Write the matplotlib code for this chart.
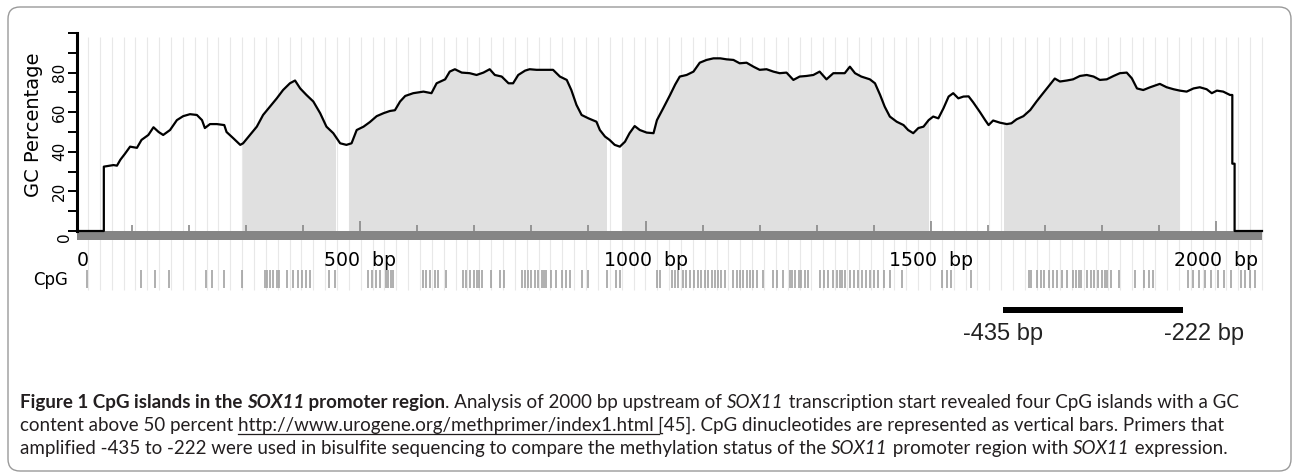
import matplotlib.pyplot as plt
import numpy as np
from matplotlib.patches import Rectangle, FancyBboxPatch
from matplotlib.lines import Line2D
from matplotlib.transforms import IdentityTransform

# --- values (bp, GC %) ---
gc_pos = [4, 51, 51, 68, 74, 80, 88, 97, 109, 117, 129, 138, 147, 155, 167, 179, 190, 202,
          214, 223, 228, 237, 249, 262, 266, 278, 290, 295, 307, 319, 330, 342, 354, 365,
          377, 386, 395, 406, 418, 430, 441, 453, 465, 476, 485, 494, 506, 517, 529, 541,
          552, 561, 570, 579, 593, 611, 625, 634, 649, 657, 666, 678, 692, 704, 716, 727,
          736, 748, 760, 768, 777, 789, 797, 809, 824, 838, 850, 862, 870, 879, 888, 900,
          914, 920, 929, 937, 946, 955, 964, 972, 981, 990, 1002, 1014, 1020, 1031, 1043,
          1052, 1060, 1072, 1084, 1095, 1107, 1119, 1131, 1142, 1154, 1165, 1177, 1189,
          1200, 1212, 1224, 1235, 1247, 1259, 1270, 1282, 1294, 1305, 1317, 1329, 1340,
          1349, 1358, 1367, 1378, 1393, 1402, 1411, 1419, 1428, 1440, 1452, 1460, 1469,
          1478, 1487, 1496, 1504, 1513, 1522, 1531, 1539, 1548, 1557, 1566, 1574, 1586,
          1595, 1601, 1609, 1621, 1633, 1641, 1650, 1662, 1674, 1685, 1694, 1706, 1717,
          1726, 1738, 1749, 1761, 1773, 1785, 1796, 1808, 1820, 1831, 1843, 1852, 1861,
          1872, 1884, 1901, 1913, 1925, 1936, 1948, 1960, 1971, 1983, 1992, 2001, 2012,
          2024, 2028, 2028, 2032, 2032, 2080]
gc_pct = [0, 0, 32.5, 33.3, 33, 36, 39, 42.6, 42, 46, 48.5, 52.4, 50, 48.5, 51, 56, 58, 59,
          58.6, 56, 52, 54, 54, 53.5, 50, 46.8, 43.5, 44.3, 48.5, 52.7, 58.6, 62.8, 67, 71.2,
          74.6, 76, 72, 68.7, 65.4, 59.5, 52.7, 49.4, 44.3, 43.5, 44.3, 51, 52.7, 55, 58, 59.5,
          60.6, 61, 65.4, 68.2, 69.6, 70.4, 69.6, 74.6, 76.6, 80.5, 81.7, 80, 79.7, 78.8, 80, 81.7,
          78.8, 78, 74.6, 74.6, 78.8, 81, 81.7, 81.4, 81.4, 81.4, 78, 76.3, 71.2, 63.7, 58.6, 56.9,
          55.2, 51, 47.7, 46, 43.5, 42.6, 45.1, 49.4, 53, 51, 49.7, 49.4, 56, 62, 68.7,
          74, 78, 78.8, 80.5, 85, 86.4, 87.2, 87.2, 86.7, 86.4, 84.7, 85, 83,
          81.4, 81.7, 80.5, 79.7, 80, 76.3, 78, 78.3, 78.8, 80.5, 76.6, 79.7, 79.7,
          79.7, 83, 79.7, 78, 76.6, 74.6, 68.7, 62.8, 57.8, 55.2, 53.5, 51, 49.4,
          52, 52.7, 56, 57.8, 56.9, 62, 67.9, 69.6, 67, 67.9, 68, 65, 60,
          56, 53.5, 55.8, 54.7, 54, 54.4, 56.4, 58, 61.1, 65.4, 68.7, 73, 77,
          75.5, 76, 76.6, 78.3, 78.8, 78, 76.3, 76.6, 78.3, 79.7, 80, 77.1, 72,
          71.2, 72.6, 74.3, 72.6, 71.6, 70.9, 70.4, 72, 72.6, 71.6, 69.6, 70.9, 70.4,
          68.7, 68.7, 34, 34, 0, 0]

islands = [(294, 456), (480, 931), (959, 1495), (1628, 1935)]

cpg_sites = [22, 116, 141, 165, 230, 240, 262, 293, 333, 337, 342, 348, 354, 358, 372, 382,
             392, 399, 405, 412, 446, 456, 514, 521, 528, 535, 545, 549, 554, 557, 611, 616,
             622, 631, 637, 651, 681, 686, 692, 699, 704, 708, 713, 730, 745, 752, 783, 789,
             794, 800, 806, 812, 818, 822, 826, 835, 844, 853, 861, 867, 888, 899, 933, 949,
             956, 1020, 1026, 1046, 1052, 1057, 1065, 1071, 1078, 1085, 1092, 1098, 1104, 1110,
             1116, 1122, 1127, 1133, 1139, 1154, 1160, 1165, 1171, 1178, 1183, 1189, 1196, 1205,
             1224, 1230, 1241, 1253, 1257, 1262, 1268, 1273, 1279, 1285, 1306, 1313, 1320, 1328,
             1335, 1341, 1345, 1350, 1358, 1365, 1373, 1380, 1387, 1393, 1400, 1408, 1417, 1428,
             1449, 1519, 1528, 1536, 1571, 1671, 1676, 1685, 1692, 1698, 1706, 1713, 1721, 1729,
             1738, 1749, 1754, 1759, 1763, 1773, 1780, 1786, 1793, 1799, 1805, 1809, 1816, 1830,
             1857, 1873, 1882, 1889, 1951, 1959, 1970, 1980, 1990, 2003, 2013, 2025, 2044, 2050,
             2059, 2067]

primer_bar = (1627, 1942)
primer_labels = ["-435 bp", "-222 bp"]
primer_label_pos = [1626, 1978]

x_ticks = [4, 500, 1000, 1500, 2000]
x_tick_labels = ["0", "500  bp", "1000  bp", "1500  bp", "2000  bp"]
y_ticks = list(range(0, 101, 10))
y_tick_labels = ["", "", "20", "", "40", "", "60", "", "80", "", ""]

caption = [
    [("Figure 1 CpG islands in the ", "bold", "normal", False),
     ("SOX11", "bold", "italic", False),
     (" promoter region", "bold", "normal", False),
     (". Analysis of 2000 bp upstream of ", "normal", "normal", False),
     ("SOX11", "normal", "italic", False),
     (" transcription start revealed four CpG islands with a GC", "normal", "normal", False)],
    [("content above 50 percent ", "normal", "normal", False),
     ("http://www.urogene.org/methprimer/index1.html ", "normal", "normal", True),
     ("[45]. CpG dinucleotides are represented as vertical bars. Primers that", "normal", "normal", False)],
    [("amplified -435 to -222 were used in bisulfite sequencing to compare the methylation status of the ",
      "normal", "normal", False),
     ("SOX11", "normal", "italic", False),
     (" promoter region with ", "normal", "normal", False),
     ("SOX11", "normal", "italic", False),
     (" expression.", "normal", "normal", False)],
]

# --- figure ---
W, H = 1294, 475
fig = plt.figure(figsize=(W / 100, H / 100), dpi=100)
ax = fig.add_axes([77 / W, 1 - 349.8 / H, (1262 - 77) / W, (349.8 - 33) / H])
ax.set_xlim(4, 2080)
ax.set_ylim(-60, 100)

# light vertical grid, running down through the CpG row
ax.vlines(np.linspace(23.3, 2080, 100), -30, 98, color="#e8e8e8", lw=0.8, zorder=0, clip_on=False)

# shaded CpG islands under the curve
for a, b in islands:
    poly = ax.fill_between(gc_pos, gc_pct, 0, color="#e0e0e0", lw=0, zorder=1)
    poly.set_clip_path(Rectangle((a, -1), b - a, 101, transform=ax.transData))

# dark base bar
ax.add_patch(Rectangle((4, -4.5), 2076, 4.5, color="#858585", lw=0, zorder=2, clip_on=False))

ax.plot(gc_pos, gc_pct, color="black", lw=1.6, zorder=4, clip_on=False)

# CpG sites
ax.vlines(cpg_sites, -28.8, -19.7, color="#9a9a9a", lw=1.1, zorder=2)
ax.text(-11.8, -24.5, "CpG", ha="right", va="center", fontsize=12)

# primer bar and labels
ax.add_patch(Rectangle((primer_bar[0], -41.5), primer_bar[1] - primer_bar[0], 3.3,
                       color="black", lw=0, clip_on=False))
for pos, lab in zip(primer_label_pos, primer_labels):
    ax.text(pos, -55, lab, ha="center", va="baseline", fontsize=17,
            family="Liberation Sans", color="#222222")

# axes styling
for side in ["top", "right", "bottom"]:
    ax.spines[side].set_visible(False)
ax.spines["bottom"].set_position(("data", 0))
ax.spines["left"].set_bounds(0, 100)
ax.spines["left"].set_linewidth(2.2)

ax.set_xticks(x_ticks, x_tick_labels)
ax.set_xticks(range(100, 2080, 100), minor=True)
ax.tick_params(axis="x", which="major", direction="in", length=7.2, width=1.1,
               color="#808080", pad=14.7, labelsize=13.6)
ax.tick_params(axis="x", which="minor", direction="in", length=4.3, width=1.1, color="#808080")
ax.get_xticklabels()[0].set_ha("left")

ax.set_yticks(y_ticks, y_tick_labels)
ax.tick_params(axis="y", direction="out", length=6.5, width=1.4, pad=0.7,
               labelsize=11, labelrotation=90)
plt.setp(ax.get_yticklabels(), va="center")
ax.text(-4.8, -3, "0", rotation=90, ha="right", va="center", fontsize=11)

ax.set_ylabel("GC Percentage", fontsize=14)
ax.yaxis.set_label_coords((43 - 77) / 1185, (53.5 + 60) / 160)

# --- caption, drawn segment by segment ---
renderer = fig.canvas.get_renderer()


def seg_width(txt, **kw):
    t = fig.text(0, 0, "|" + txt + "|", **kw)
    r = fig.text(0, 0, "||", **kw)
    w = t.get_window_extent(renderer).width - r.get_window_extent(renderer).width
    t.remove()
    r.remove()
    return w


def style(weight, slant, size):
    return dict(fontsize=size, fontweight=weight, fontstyle=slant, family="Lato", color="#231f20")


base = 12
w1 = sum(seg_width(s, **style(wt, sl, base)) for s, wt, sl, _ in caption[0])
cap_size = base * 1214 / w1

for line, ybase in zip(caption, [408, 431, 454]):
    x = 20
    for s, wt, sl, under in line:
        kw = style(wt, sl, cap_size)
        fig.text(x / W, 1 - ybase / H, s, ha="left", va="baseline", **kw)
        w = seg_width(s, **kw)
        if under:
            fig.add_artist(Line2D([x / W, (x + w) / W], [1 - (ybase + 2.5) / H] * 2,
                                  color="#231f20", lw=0.9))
        x += w

# rounded frame
fig.add_artist(FancyBboxPatch((8, H - 471), 1283, 464, boxstyle="round,pad=0,rounding_size=12",
                              transform=IdentityTransform(), fill=False, ec="#9a9a9a", lw=1))

fig.savefig("out.png", dpi=100)
